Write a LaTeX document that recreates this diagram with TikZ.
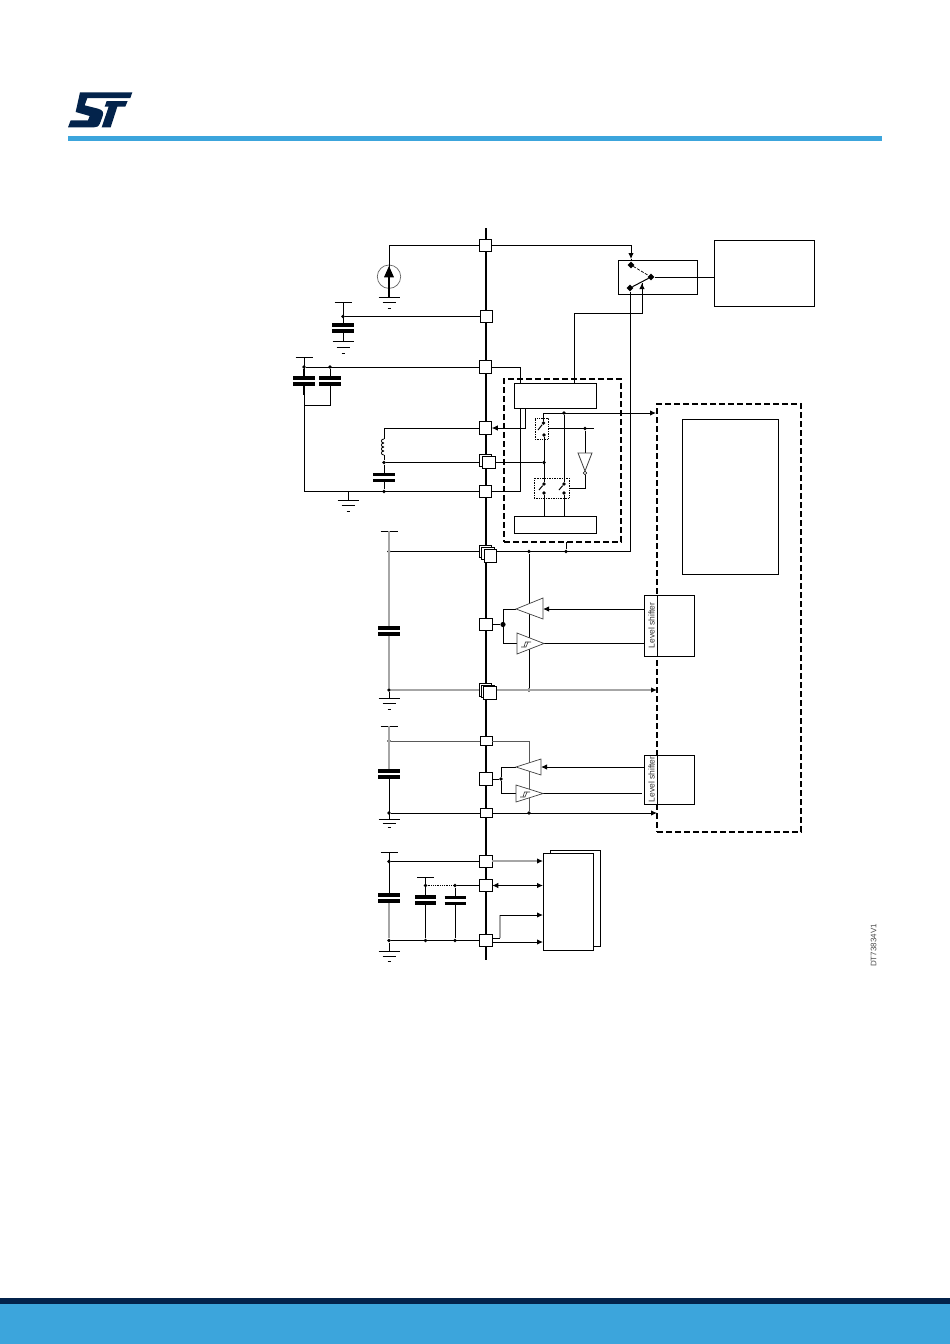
\documentclass[tikz,border=0pt]{standalone}
\usepackage{fontspec}
\setmainfont{Liberation Sans}
\usetikzlibrary{arrows.meta,shapes.geometric}
\definecolor{stblue}{HTML}{3CA5DC}
\definecolor{stnavy}{HTML}{03234B}

\newcommand{\makeCap}[3]{
  \fill[white] (#1-#3,#2) rectangle (#1+#3,#2+6);
  \draw[plate] (#1-#3,#2) -- (#1+#3,#2);
  \draw[plate] (#1-#3,#2+6) -- (#1+#3,#2+6);
}
\newcommand{\makeGround}[3]{
  \draw[wire] (#1-10.5,#2) -- (#1+10.5,#2);
  \draw[wire] (#1-6.5,#2+#3) -- (#1+6.5,#2+#3);
  \draw[wire] (#1-1.5,#2+2*#3) -- (#1+1.5,#2+2*#3);
}
\newcommand{\makeRail}[2]{
  \draw[wire] (#1-8.5,#2) -- (#1+8.5,#2);
}
\newcommand{\makeHyst}[2]{
  \draw[line width=.6pt,black!80] (#1-6,#2+4) -- (#1-1,#2+4) -- (#1+1,#2-1) -- (#1+4,#2-1);
  \draw[line width=.6pt,black!80] (#1-3,#2+4) -- (#1-1.5,#2-1) -- (#1+1,#2-1);
}

\begin{document}
\begin{tikzpicture}[x=1pt,y=-1pt]
  \tikzstyle{wire}=[line width=1pt];
  \tikzstyle{greywire}=[line width=1.1pt, draw=black!35];
  \tikzstyle{midwire}=[line width=1pt, draw=black!65];
  \tikzstyle{plate}=[line width=3.2pt];
  \tikzstyle{sig}=[-{Latex[length=6pt,width=5.5pt,color=black]}];
  \tikzstyle{pad}=[draw, fill=white, line width=1pt, inner sep=0, outer sep=0, minimum width=12.5, minimum height=12.5];
  \tikzstyle{flatpad}=[pad, minimum width=12, minimum height=9];
  \tikzstyle{box}=[draw, fill=white, line width=1pt, inner sep=0, outer sep=0];
  \tikzstyle{dashbox}=[draw, line width=1.7pt, dash pattern=on 6pt off 3pt, inner sep=0, outer sep=0];
  \tikzstyle{dotbox}=[draw, line width=.7pt, densely dotted, inner sep=0, outer sep=0];
  \tikzstyle{junc}=[circle, fill=black, inner sep=0, minimum size=3.8];
  \tikzstyle{bigjunc}=[circle, fill=black, inner sep=0, minimum size=5.2];
  \tikzstyle{pole}=[diamond, fill=black, inner sep=0, minimum size=7];
  \tikzstyle{amp}=[draw=black!75, fill=white, line width=.7pt];
  \tikzstyle{shifttext}=[rotate=90, font=\fontsize{8.5}{9}\selectfont, text=black!80, inner sep=0];

  \useasboundingbox (0,0) rectangle (950,1344);

  \fill[stblue] (68,136) rectangle (882,141);
  \fill[stnavy] (0,1298) rectangle (950,1304);
  \fill[stblue] (0,1304) rectangle (950,1344);

  \begin{scope}[shift={(64,88)},x=.3333pt,y=-.3333pt]
    \fill[stnavy] (48,13) -- (205,13) -- (199,30) -- (70,30) -- (62,52) -- (102,62)
      .. controls (116,66) and (120,72) .. (116,84) -- (108,106)
      .. controls (104,116) and (98,118) .. (90,118) -- (12,118) -- (20,97) -- (72,97)
      -- (77,84) -- (35,72) -- cycle;
    \fill[stnavy] (128,39) -- (191,39) -- (184,56) -- (160,56) -- (140,118) -- (113,118) -- (134,56) -- (122,56) -- cycle;
  \end{scope}

  \foreach \n/\x/\y in {busTop/486/228, busBot/486/960}
    \coordinate (\n) at (\x,\y);
  \draw[line width=2pt] (busTop) -- (busBot);

  \foreach \n/\x/\y in {p1/485.5/245.5, p2/486.3/316.5, p3/485.5/367, p4/485.5/428, p5a/485.7/460.5, p5b/489/462.5,
      p6/485.5/491.5, p7a/485.5/551.5, p7b/488/553.5, p7c/490.5/556, p8/486/624.5, p9a/485.5/690, p9b/488/691.5, p9c/490/693,
      p11/486/779, p13/486/861.5, p14/486/885.5, p15/486/940.5}
    \node[pad] (\n) at (\x,\y) {};
  \foreach \n/\y in {p10/741, p12/813}
    \node[flatpad] (\n) at (486,\y) {};

  \node[box, minimum width=79, minimum height=34] (swbox) at (657.5,277) {};
  \node[box, minimum width=100, minimum height=66] (corebox) at (764,273) {};
  \node[box, minimum width=82, minimum height=25] (regbox) at (555,395.5) {};
  \node[box, minimum width=82, minimum height=17.5] (lowbox) at (555,525) {};
  \node[dashbox, minimum width=117, minimum height=163] (ssbox) at (562.5,460.5) {};
  \node[dashbox, minimum width=144, minimum height=428] (socbox) at (729,618) {};
  \node[box, minimum width=96, minimum height=155] (cpubox) at (730,496.5) {};
  \node[box, minimum width=50, minimum height=61] (lvlA) at (669,625.5) {};
  \node[box, minimum width=50, minimum height=49] (lvlB) at (669,779.5) {};
  \node[box, minimum width=50, minimum height=96] (memback) at (575,898) {};
  \node[box, minimum width=50, minimum height=97] (memfront) at (568,901.5) {};
  \draw[wire] (lvlA.north -| socbox.west) -- (lvlA.south -| socbox.west);
  \draw[wire] (lvlB.north -| socbox.west) -- (lvlB.south -| socbox.west);
  \node[shifttext] (lvlAtext) at (651.5,625.5) {Level shifter};
  \node[shifttext] (lvlBtext) at (651.5,779.5) {Level shifter};
  \node[dotbox, minimum width=13, minimum height=21] (sw1) at (541.5,428.5) {};
  \node[dotbox, minimum width=35, minimum height=20] (sw2) at (551.5,488) {};
  \node[circle, draw=black!60, line width=.7pt, inner sep=0, minimum size=23.4] (src) at (389,276.7) {};

  \foreach \n/\x/\y in {dC1/343/316.5, dC2/304/367, dC3/330/367, dL/384/462.5, dLb/384/491.5, dVa/389/551.5, dVb/389/690,
      dVc/529/551.5, dVd/566/551.5, dVe/529/690, dW1/389/741, dW2/389/813, dW3/529/813, dX1/389/861.5, dX2/389/940.5,
      dX3/425.5/885.5, dX4/455/885.5, dX5/425.5/940.5, dX6/455/940.5, dSa/564/413, dSb/585/428.5, dSc/544/462.5,
      dOut/501/779, s1a/543.5/423, s1b/544/435, s2a/544/484, s2b/544/493, s2c/564/484, s2d/564/493}
    \node[junc] (\n) at (\x,\y) {};
  \node[bigjunc] (dIn) at (503,624.5) {};
  \foreach \n/\x/\y in {dmA/631/265, dmB/651/277, dmC/630/288}
    \node[pole] (\n) at (\x,\y) {};

  \foreach \n/\x/\y in {gSrc/389/297, rC1/343/302, gC1/343/341, rC2/304/357, tC2/304/395, bL/304/491.5, cC3/330/405, jC3/304/405,
      gL/348/491.5, gLb/348/500, lTop/384/439, lBot/384/455, rC4/389/531, gC4/389/698, rC5/389/726, cC5/389/771, cC5b/389/777,
      gC5/389/819, rC6/389/852, cC6/389/901, gC6/389/951, rC7/425.5/877, xA/520/383, xB/520/408, xC/525/408, xD/574.5/383,
      xE/574.5/313, xF/642/283, swTop/631/259, jC7/497/551.5, jC9/496.5/690, socA/656/413, socB/657/690, socC/657/813,
      ctlEnd/594/428.5, low1/544/516, low2/564/516, bl1/538/430, bl2/539/490, bl3/559/490, invTop/585/453,
      drvA/516/609, rxA/517/643.5, rxOutA/544/643.5, lvlAa/644/609, lvlAb/644/643.5, ampA/543/609,
      drvB/516/767, rxB/516/793.5, rxOutB/543/793.5, lvlBa/644/767, lvlBb/642/793.5, ampB/541/767,
      memIn1/543/861, memIn2/543/885.5, memIn3/543/915, memIn4/543/942, jD/500/938, jE/500/915, jF/492.5/938}
    \coordinate (\n) at (\x,\y);

  \draw[wire] (p1) -| (src.center);
  \draw[line width=1.8pt] (src.center) -- (gSrc);
  \fill (384,277.3) -- (394,277.3) -- (389,266) -- cycle;
  \makeGround{389}{297}{5.8}

  \makeRail{343}{302}
  \draw[wire] (rC1) -- (gC1);
  \draw[wire] (dC1) -- (p2);
  \makeCap{343}{325}{11}
  \makeGround{343}{341}{6}

  \makeRail{304}{357}
  \draw[wire] (rC2) -- (bL);
  \draw[line width=1.8pt] (dC2) -- (tC2);
  \draw[wire] (dC2) -- (p3);
  \draw[wire] (dC3) |- (jC3);
  \makeCap{304}{378}{11}
  \makeCap{330}{378}{11}
  \draw[wire] (bL) -- (p6);
  \draw[wire] (gL) -- (gLb);
  \makeGround{348}{500}{5.5}

  \draw[wire] (p4) -| (lTop);
  \foreach \i in {0,1,2,3}
    \draw[line width=.8pt] (384,439+4*\i) .. controls (380.5,439+4*\i) and (380.5,443+4*\i) .. (384,443+4*\i);
  \draw[wire] (lBot) -- (dL);
  \draw[wire] (dL) -- (dL -| p5a.west);
  \draw[wire] (dL) -- (dLb);
  \makeCap{384}{474.5}{11}

  \draw[wire] (p3) -| (xA);
  \draw[wire] (xB) |- (p6);
  \draw[wire, sig] (xC) |- (p4);
  \draw[wire] (xD) -- (xE) -| (xF);
  \draw[wire, sig] (xE -| xF) -- (xF);
  \draw[wire, sig] (p1) -| (swTop);
  \draw[wire] (swTop) -- (dmA);
  \draw[line width=.7pt, dash pattern=on 3pt off 1.5pt] (dmA) -- (dmB);
  \draw[wire] (dmC) -- (dmB);
  \draw[wire] (dmB) -- (dmB -| corebox.west);
  \draw[wire] (dmC) |- (jC7);
  \draw[wire] (dVd) -- (dVd |- ssbox.south);

  \draw[wire, sig] (s1a) |- (socA);
  \draw[wire] (s1b) -- (s2a);
  \draw[wire] (p5b) -- (dSc);
  \draw[wire] (dSa) -- (s2c);
  \draw[wire] (s2b) -- (low1);
  \draw[wire] (s2d) -- (low2);
  \draw[wire] (s1a) -- (bl1);
  \draw[wire] (s2a) -- (bl2);
  \draw[wire] (s2c) -- (bl3);
  \draw[wire] (sw1.east) -- (ctlEnd);
  \draw[wire] (dSb) -- (invTop);
  \draw[amp, line width=.8pt] (578,453) -- (592,453) -- (585,471) -- cycle;
  \node[circle, draw, fill=white, line width=.6pt, inner sep=0, minimum size=3.6] (bubble) at (585,473) {};
  \draw[wire] (bubble) |- (sw2.east);

  \makeRail{389}{531}
  \draw[greywire] (rC4) -- (dVb);
  \draw[wire] (dVa) -- (dVa -| p7a.west);
  \draw[wire] (dVb) -- (gC4);
  \makeCap{389}{628}{11}
  \makeGround{389}{698}{5.5}
  \draw[wire] (jC7) -- (dVd);
  \draw[wire] (dVc) -- (dVe);
  \draw[greywire] (dVb) -- (dVb -| p9a.west);
  \draw[greywire, sig] (jC9) -- (socB);

  \draw[wire] (p8) -- (dIn);
  \draw[wire] (drvA) -| (dIn);
  \draw[wire] (rxA) -| (dIn);
  \draw[wire, sig] (lvlAa) -- (ampA);
  \draw[wire] (rxOutA) -- (lvlAb);
  \draw[amp] (drvA) -- (543,598) -- (543,619) -- cycle;
  \draw[amp] (517,633) -- (517,654) -- (rxOutA) -- cycle;
  \makeHyst{527}{643}

  \makeRail{389}{726}
  \draw[greywire] (rC5) -- (cC5);
  \draw[wire] (cC5b) -- (gC5);
  \makeCap{389}{771}{11}
  \makeGround{389}{819}{4}
  \draw[midwire] (dW1) -- (p10);
  \draw[midwire] (p10) -| (dW3);
  \draw[wire] (dW2) -- (p12);
  \draw[wire, sig] (p12) -- (socC);

  \draw[wire] (p11) -- (dOut);
  \draw[wire] (drvB) -| (dOut);
  \draw[wire] (rxB) -| (dOut);
  \draw[wire, sig] (lvlBa) -- (ampB);
  \draw[wire] (rxOutB) -- (lvlBb);
  \draw[amp] (drvB) -- (541,759) -- (541,775) -- cycle;
  \draw[amp] (516,785) -- (516,802) -- (rxOutB) -- cycle;
  \makeHyst{526}{793}

  \makeRail{389}{852}
  \draw[wire] (rC6) -- (cC6);
  \draw[greywire] (cC6) -- (dX2);
  \draw[wire] (dX1) -- (p13);
  \draw[wire] (dX2) -- (gC6);
  \makeCap{389}{895}{11}
  \makeGround{389}{951}{5}
  \makeRail{425.5}{877}
  \draw[wire] (rC7) -- (dX5);
  \draw[wire] (dX4) -- (dX6);
  \draw[line width=.8pt, densely dotted] (dX3) -- (dX4);
  \draw[wire] (dX4) -- (p14);
  \draw[wire] (dX2) -- (p15);
  \makeCap{425.5}{897}{10.5}
  \makeCap{455}{897.5}{10.5}

  \draw[greywire, sig] (p13.east |- memIn1) -- (memIn1);
  \draw[wire, {Latex[length=6pt,width=5.5pt]}-{Latex[length=6pt,width=5.5pt]}] (p14) -- (memIn2);
  \draw[wire] (jF) -- (jD);
  \draw[greywire] (jD) -- (jE);
  \draw[wire, sig] (jE) -- (memIn3);
  \draw[wire, sig] (p15.east |- memIn4) -- (memIn4);

  \node[rotate=90, font=\fontsize{8}{9}\selectfont, text=black!70, inner sep=0] (docref) at (873.5,945.5) {DT73834V1};
\end{tikzpicture}
\end{document}
